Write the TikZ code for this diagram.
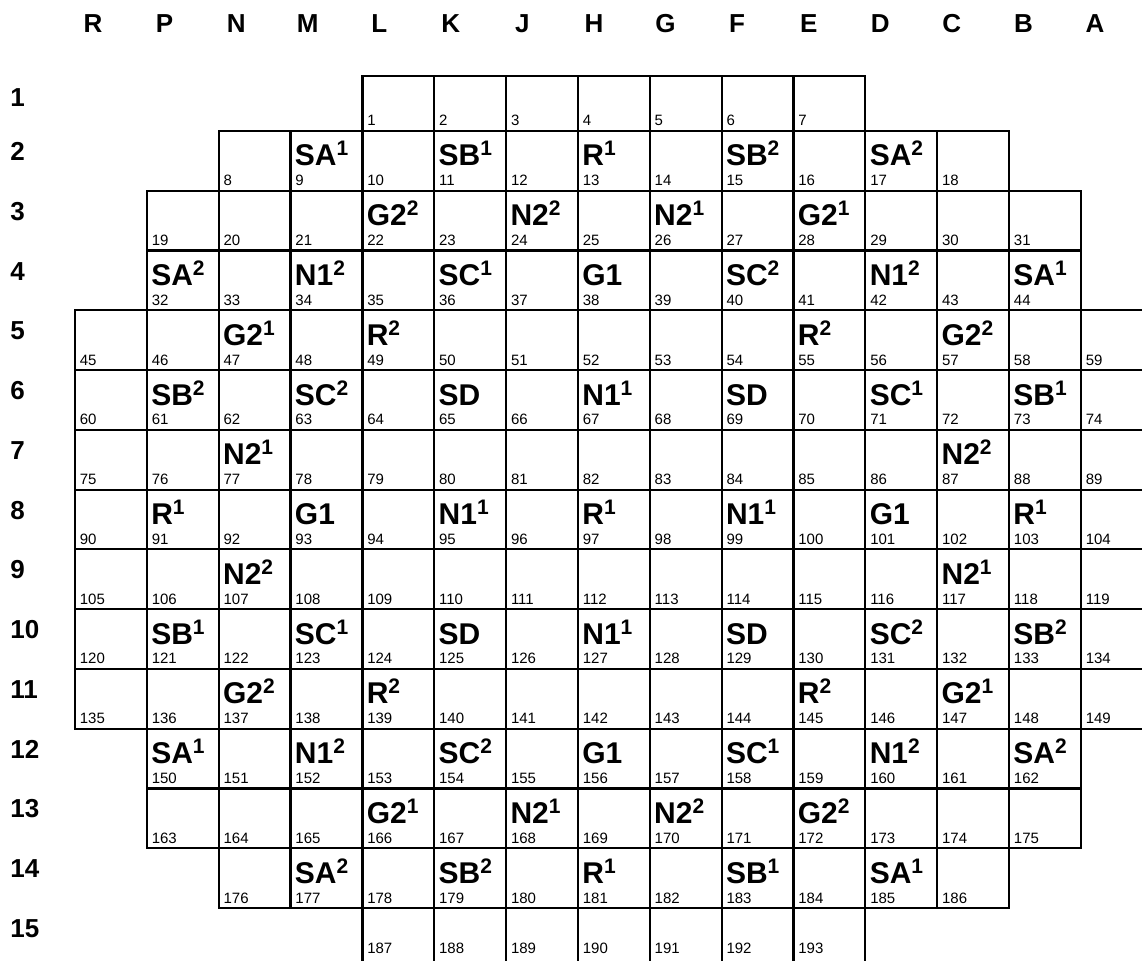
\documentclass[tikz,border=0pt]{standalone}
\usepackage{fontspec}
\setmainfont{Liberation Sans}
\usetikzlibrary{calc}
\newcommand\supx[1]{\raisebox{5pt}{\fontsize{10.5}{12}\selectfont #1}}
\tikzset{
  cell/.style={draw=black, line width=1.1pt, rectangle, inner sep=0pt, outer sep=0pt, anchor=north west, minimum width=35.925pt},
  num/.style={anchor=base west, inner sep=0pt, font=\fontsize{7.5}{8}\selectfont},
  lab/.style={anchor=base west, inner sep=0pt, font=\fontsize{15}{18}\selectfont\bfseries},
  collab/.style={anchor=base, inner sep=0pt, font=\fontsize{13}{15}\selectfont\bfseries},
  rowlab/.style={anchor=base west, inner sep=0pt, font=\fontsize{13}{15}\selectfont\bfseries}
}
\begin{document}
\begin{tikzpicture}[x=0.5pt,y=-0.5pt]
\useasboundingbox (0,0) rectangle (1142,961);
% column letters
\foreach \L [count=\i from 0] in {R,P,N,M,L,K,J,H,G,F,E,D,C,B,A}
  \node[collab] (col\L) at ({93+71.57*\i},33) {\L};
% row numbers
\foreach \r in {1,...,15}{
  \pgfmathsetmacro{\yy}{\r==1 ? 107 : 131+(\r-2)*59.77+29.5}
  \node[rowlab] (row\r) at (10,\yy) {\r};
}
% cells
\foreach \r/\c/\n/\f in {1/4/7/1,2/2/11/8,3/1/13/19,4/1/13/32,5/0/15/45,6/0/15/60,7/0/15/75,8/0/15/90,9/0/15/105,10/0/15/120,11/0/15/135,12/1/13/150,13/1/13/163,14/2/11/176,15/4/7/187}{
  \foreach \k in {1,...,\n}{
    \pgfmathtruncatemacro{\num}{\f+\k-1}
    \pgfmathsetmacro{\xl}{75+71.85*(\c+\k-1)}
    \pgfmathsetmacro{\yt}{\r==1 ? 76 : 131+(\r-2)*59.77}
    \pgfmathsetmacro{\hh}{\r==1 ? 55 : 59.77}
    \pgfmathsetmacro{\nb}{\r==15 ? 45.5 : \hh-5}
    \node[cell, minimum height=\hh*0.5pt] (c\num) at (\xl,\yt) {};
    \node[num] (n\num) at ($(c\num.north west)+(4.5,\nb)$) {\num};
  }
}
% cell labels
\foreach \m/\t/\s in {
  9/SA/1, 11/SB/1, 13/R/1, 15/SB/2, 17/SA/2,
  22/G2/2, 24/N2/2, 26/N2/1, 28/G2/1,
  32/SA/2, 34/N1/2, 36/SC/1, 38/G1/{}, 40/SC/2, 42/N1/2, 44/SA/1,
  47/G2/1, 49/R/2, 55/R/2, 57/G2/2,
  61/SB/2, 63/SC/2, 65/SD/{}, 67/N1/1, 69/SD/{}, 71/SC/1, 73/SB/1,
  77/N2/1, 87/N2/2,
  91/R/1, 93/G1/{}, 95/N1/1, 97/R/1, 99/N1/1, 101/G1/{}, 103/R/1,
  107/N2/2, 117/N2/1,
  121/SB/1, 123/SC/1, 125/SD/{}, 127/N1/1, 129/SD/{}, 131/SC/2, 133/SB/2,
  137/G2/2, 139/R/2, 145/R/2, 147/G2/1,
  150/SA/1, 152/N1/2, 154/SC/2, 156/G1/{}, 158/SC/1, 160/N1/2, 162/SA/2,
  166/G2/1, 168/N2/1, 170/N2/2, 172/G2/2,
  177/SA/2, 179/SB/2, 181/R/1, 183/SB/1, 185/SA/1}
  \node[lab] (l\m) at ($(c\m.north west)+(4,35)$) {\t\supx{\s}};
\end{tikzpicture}
\end{document}
